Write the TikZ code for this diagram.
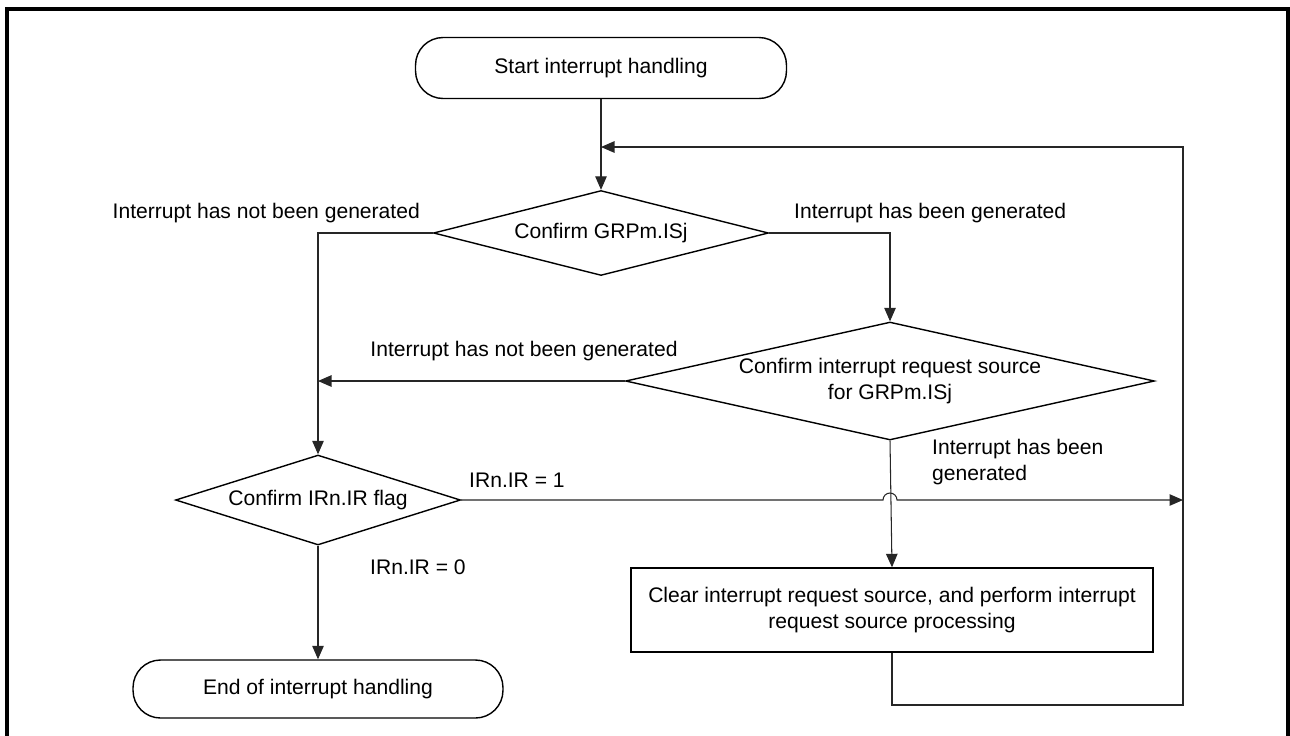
\documentclass[tikz,border=0pt]{standalone}
\usepackage{fontspec}
\setmainfont{Liberation Sans}
\usetikzlibrary{shapes.geometric,arrows.meta}

\begin{document}
\begin{tikzpicture}[x=0.02cm,y=-0.02cm,
  every node/.style={font=\fontsize{12}{14.5}\selectfont},
  term/.style={draw,line width=0.8pt,rounded corners=0.55cm,minimum width=7.42cm,minimum height=1.22cm},
  decide/.style={draw,diamond,line width=0.8pt,inner sep=0pt,align=center},
  proc/.style={draw,rectangle,line width=0.8pt,align=center,minimum width=10.44cm,minimum height=1.68cm},
  flow/.style={line width=0.6pt,draw=black!85},
  arr/.style={flow,-{Triangle[length=0.27cm,width=0.23cm]}}]

\useasboundingbox (0,0) rectangle (1290,735);
\draw[line width=2.3pt] (7,745) -- (7,9) -- (1288,9) -- (1288,745);

 % boxes
 \node[term] (start) at (601,68) {Start interrupt handling};
 \node[decide,minimum width=6.7cm,minimum height=1.7cm,aspect=4] (grp) at (601,233) {Confirm GRPm.ISj};
 \node[decide,minimum width=10.58cm,minimum height=2.36cm,aspect=4.5] (src) at (890,381) {Confirm interrupt request source\\for GRPm.ISj};
 \node[decide,minimum width=5.7cm,minimum height=1.8cm,aspect=3.2] (irf) at (318,500) {Confirm IRn.IR flag};
 \node[proc] (clr) at (892,610) {Clear interrupt request source, and perform interrupt\\request source processing};
 \node[term,minimum width=7.4cm,minimum height=1.16cm] (fin) at (318,689) {End of interrupt handling};

 % labels
 \node[anchor=east] (grpno) at (426,213) {Interrupt has not been generated};
 \node[anchor=west] (grpyes) at (788,213) {Interrupt has been generated};
 \node (srcno) at (524,351) {Interrupt has not been generated};
 \node[anchor=west,align=left] (srcyes) at (926,462) {Interrupt has been\\generated};
 \node[anchor=west] (irfone) at (463,480) {IRn.IR = 1};
 \node[anchor=west] (irfzero) at (364,567) {IRn.IR = 0};

 \coordinate (loopt) at (1183,147);
 \coordinate (loopb) at (1183,705);
 \coordinate (jmp) at (irf.east -| src.south);

 % connectors
 \draw[arr] (start.south) -- (grp.north);
 \draw[arr] (grp.west) -| (irf.north);
 \draw[arr] (grp.east) -| (src.north);
 \draw[arr] (src.west) -- (src.west -| irf.north);
 \draw[arr] (src.south) -- (clr.north);
 \draw[arr] (irf.south) -- (fin.north);
 \draw[arr] (clr.south) |- (loopb) -- (loopt) -- (loopt -| grp.north);
 \draw[arr] (irf.east) -- ([xshift=-0.14cm]jmp) arc[start angle=180,end angle=0,radius=0.14cm] -- (irf.east -| loopb);
\end{tikzpicture}
\end{document}
